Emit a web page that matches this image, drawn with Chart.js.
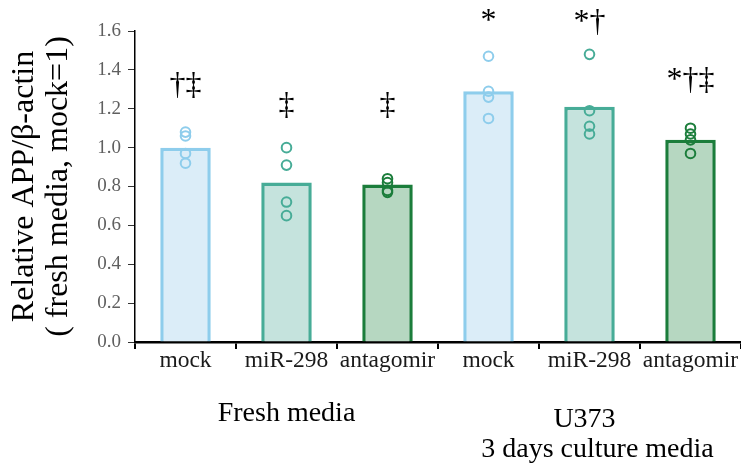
<!DOCTYPE html>
<html>
<head>
<meta charset="utf-8">
<script src="https://cdn.jsdelivr.net/npm/chart.js@4.4.1/dist/chart.umd.min.js"></script>
<style>
  html, body { margin: 0; padding: 0; background: #ffffff; }
  #wrap { width: 741px; height: 467px; }
</style>
</head>
<body>
<div id="wrap"><canvas id="chart" width="741" height="467"></canvas></div>
<script>
// Treatments within each media condition
const treatments = ['mock', 'miR-298', 'antagomir'];
// Media conditions (group captions under the axis)
const groups = [['Fresh media'], ['U373', '3 days culture media']];

// Mean relative APP/β-actin per bar (fresh media mock = 1)
const meanValues = [1.00, 0.82, 0.81, 1.29, 1.21, 1.04];

// Individual replicate values per bar
const replicates = [
  [1.08, 1.06, 0.97, 0.92],
  [1.00, 0.91, 0.72, 0.65],
  [0.84, 0.82, 0.78, 0.77],
  [1.47, 1.29, 1.26, 1.15],
  [1.48, 1.19, 1.11, 1.07],
  [1.10, 1.07, 1.04, 0.97]
];

// Significance marks above each bar and the level they sit at
const significance = ['†‡', '‡', '‡', '*', '*†', '*†‡'];
const markLevels = [1.276, 1.173, 1.173, 1.605, 1.60, 1.30];

// Y axis tick values
const yTickValues = [0.0, 0.2, 0.4, 0.6, 0.8, 1.0, 1.2, 1.4, 1.6];

// Styling per treatment
const edgeColors = ['#8ecdec', '#47ac97', '#1b7d3b'];
const fillColors = ['#dbedf8', '#c5e3dd', '#b6d7c1'];

const labels = [];
groups.forEach(() => treatments.forEach(t => labels.push(t)));
const barEdge = labels.map((_, i) => edgeColors[i % 3]);
const barFill = labels.map((_, i) => fillColors[i % 3]);

// Replicate points, placed on a hidden linear axis aligned with the bar categories
const points = [];
const pointEdge = [];
replicates.forEach((vals, i) => vals.forEach(v => {
  points.push({ x: i, y: v });
  pointEdge.push(edgeColors[i % 3]);
}));

const serif = '"Liberation Serif", "Times New Roman", serif';

const annotate = {
  id: 'annotate',
  afterDraw(chart) {
    const { ctx, scales: { x, y } } = chart;
    ctx.save();
    ctx.fillStyle = '#000000';
    ctx.textAlign = 'center';
    ctx.textBaseline = 'alphabetic';
    ctx.font = '32px ' + serif;
    significance.forEach((s, i) => {
      ctx.fillText(s, x.getPixelForValue(i), y.getPixelForValue(markLevels[i]));
    });
    ctx.font = '28px ' + serif;
    groups.forEach((lines, gi) => {
      const cx = x.getPixelForValue(gi * treatments.length + 1);
      const base = lines.length > 1 ? 427 : 421;
      lines.forEach((ln, li) => {
        const shift = (lines.length > 1) ? (li === 0 ? -5 : 8) : 0;
        ctx.fillText(ln, cx + shift, base + li * 30);
      });
    });
    ctx.restore();
  }
};

new Chart(document.getElementById('chart'), {
  data: {
    labels: labels,
    datasets: [
      {
        type: 'scatter',
        xAxisID: 'xp',
        data: points,
        showLine: false,
        pointRadius: 4.8,
        pointHoverRadius: 4.8,
        pointBorderWidth: 2,
        pointBorderColor: pointEdge,
        pointBackgroundColor: 'rgba(0,0,0,0)',
        order: 0
      },
      {
        type: 'bar',
        xAxisID: 'x',
        data: meanValues,
        grouped: false,
        backgroundColor: barFill,
        borderColor: barEdge,
        borderWidth: 3.5,
        borderSkipped: 'bottom',
        barPercentage: 0.5,
        categoryPercentage: 1.0,
        order: 1
      }
    ]
  },
  options: {
    responsive: false,
    animation: false,
    layout: { autoPadding: false, padding: { top: 31, right: 0, bottom: 0, left: 8 } },
    plugins: { legend: { display: false }, tooltip: { enabled: false } },
    scales: {
      x: {
        type: 'category',
        offset: true,
        grid: { offset: true, drawOnChartArea: false, drawTicks: true, tickLength: 7, color: '#000000', lineWidth: 2 },
        border: { color: '#000000', width: 2.5 },
        ticks: {
          autoSkip: false, maxRotation: 0, minRotation: 0, padding: 0,
          color: '#1a1a1a',
          font: { family: serif, size: 23.5, lineHeight: 1 }
        },
        afterFit(s) { s.height = 125; s.paddingLeft = 0; s.paddingRight = 0; }
      },
      xp: {
        type: 'linear',
        display: false,
        min: -0.5,
        max: 5.5
      },
      y: {
        min: 0, max: 1.6,
        afterBuildTicks(s) { s.ticks = yTickValues.map(v => ({ value: v })); },
        grid: { drawOnChartArea: false, drawTicks: true, tickLength: 7, color: '#333333', lineWidth: 1 },
        border: { color: '#000000', width: 1.5 },
        ticks: {
          padding: 7,
          color: '#5f5f5f',
          font: { family: serif, size: 19 },
          callback: v => Number(v).toFixed(1)
        },
        title: {
          display: true,
          text: ['Relative APP/β-actin', '( fresh media, mock=1)'],
          color: '#000000',
          padding: { top: 0, bottom: 0 },
          font: { family: serif, size: 32, lineHeight: 1.06 }
        },
        afterFit(s) { s.width = 127; s.paddingTop = 0; s.paddingBottom = 0; }
      }
    }
  },
  plugins: [annotate]
});
</script>
</body>
</html>
